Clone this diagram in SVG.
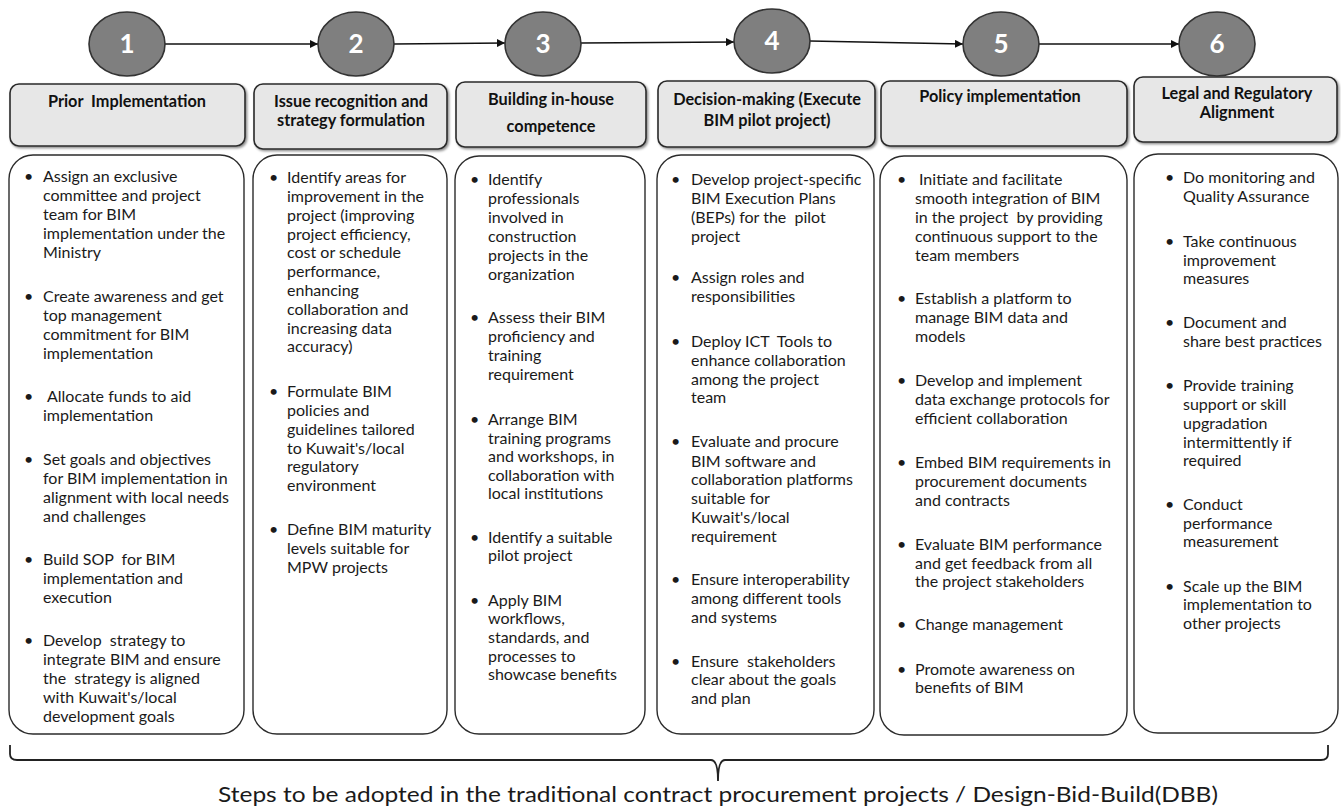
<svg xmlns="http://www.w3.org/2000/svg" width="1341" height="808" viewBox="0 0 1341 808">
  <style>
    .step ellipse { fill: #7f7f7f; stroke: #333333; stroke-width: 1.6; }
    .num { font-family: Lato, "Liberation Sans", sans-serif; font-weight: 700; font-size: 26px; fill: #ffffff; text-anchor: middle; }
    .head { fill: #e7e7e7; stroke: #2b2b2b; stroke-width: 1.6; filter: url(#shade); }
    .htxt { font-family: Lato, "Liberation Sans", sans-serif; font-weight: 700; font-size: 16.3px; fill: #111111; text-anchor: middle; white-space: pre; }
    .body { fill: #ffffff; stroke: #2b2b2b; stroke-width: 1.4; }
    .btxt { font-family: Lato, "Liberation Sans", sans-serif; font-size: 16px; fill: #1a1a1a; white-space: pre; }
    .link { fill: none; stroke: #111111; stroke-width: 1.6; }
    .brace { fill: none; stroke: #222222; stroke-width: 1.8; }
    .caption { font-family: Lato, "Liberation Sans", sans-serif; font-size: 21.5px; fill: #1a1a1a; text-anchor: middle; }
  </style>
  <defs>
    <marker id="arrow" viewBox="0 0 10 10" refX="10" refY="5" markerWidth="8" markerHeight="8" orient="auto" markerUnits="userSpaceOnUse">
      <path d="M0,0 L10,5 L0,10 z" fill="#111111"/>
    </marker>
    <filter id="shade" x="-5%" y="-10%" width="112%" height="130%">
      <feDropShadow dx="1.5" dy="1.5" stdDeviation="0.8" flood-color="#000000" flood-opacity="0.45"/>
    </filter>
  </defs>

  <!-- connectors between the numbered steps -->
  <g id="connectors">
    <line class="link" x1="165" y1="44" x2="318" y2="44" marker-end="url(#arrow)"/>
    <line class="link" x1="394" y1="44" x2="505" y2="43" marker-end="url(#arrow)"/>
    <line class="link" x1="581" y1="43" x2="734" y2="42" marker-end="url(#arrow)"/>
    <line class="link" x1="810" y1="41" x2="963" y2="44" marker-end="url(#arrow)"/>
    <line class="link" x1="1039" y1="44" x2="1179" y2="44" marker-end="url(#arrow)"/>
  </g>

  <!-- step 1 -->
  <g id="step1" class="step">
    <ellipse cx="127" cy="44" rx="38" ry="32"/>
    <text class="num" x="127" y="53">1</text>
    <rect class="head" x="10" y="84" width="235" height="62" rx="9"/>
    <text class="htxt" x="127" y="107">Prior  Implementation</text>
    <rect class="body" x="9" y="155" width="235" height="579" rx="24"/>
    <text class="btxt">
      <tspan x="24" y="182">•</tspan><tspan x="43" y="182">Assign an exclusive</tspan>
      <tspan x="43" y="201">committee and project</tspan>
      <tspan x="43" y="220">team for BIM</tspan>
      <tspan x="43" y="239">implementation under the</tspan>
      <tspan x="43" y="258">Ministry</tspan>
      <tspan x="24" y="302">•</tspan><tspan x="43" y="302">Create awareness and get</tspan>
      <tspan x="43" y="321">top management</tspan>
      <tspan x="43" y="340">commitment for BIM</tspan>
      <tspan x="43" y="359">implementation</tspan>
      <tspan x="24" y="402">•</tspan><tspan x="47" y="402">Allocate funds to aid</tspan>
      <tspan x="43" y="421">implementation</tspan>
      <tspan x="24" y="465">•</tspan><tspan x="43" y="465">Set goals and objectives</tspan>
      <tspan x="43" y="484">for BIM implementation in</tspan>
      <tspan x="43" y="503">alignment with local needs</tspan>
      <tspan x="43" y="522">and challenges</tspan>
      <tspan x="24" y="565">•</tspan><tspan x="43" y="565">Build SOP  for BIM</tspan>
      <tspan x="43" y="584">implementation and</tspan>
      <tspan x="43" y="603">execution</tspan>
      <tspan x="24" y="646">•</tspan><tspan x="43" y="646">Develop  strategy to</tspan>
      <tspan x="43" y="665">integrate BIM and ensure</tspan>
      <tspan x="43" y="684">the  strategy is aligned</tspan>
      <tspan x="43" y="703">with Kuwait's/local</tspan>
      <tspan x="43" y="722">development goals</tspan>
    </text>
  </g>

  <!-- step 2 -->
  <g id="step2" class="step">
    <ellipse cx="356" cy="44" rx="38" ry="32"/>
    <text class="num" x="356" y="53">2</text>
    <rect class="head" x="254" y="84" width="193" height="65" rx="9"/>
    <text class="htxt" x="351" y="107">Issue recognition and</text>
    <text class="htxt" x="351" y="126">strategy formulation</text>
    <rect class="body" x="253" y="155" width="194" height="579" rx="24"/>
    <text class="btxt">
      <tspan x="269" y="183">•</tspan><tspan x="287" y="183">Identify areas for</tspan>
      <tspan x="287" y="202">improvement in the</tspan>
      <tspan x="287" y="221">project (improving</tspan>
      <tspan x="287" y="240">project efficiency,</tspan>
      <tspan x="287" y="258">cost or schedule</tspan>
      <tspan x="287" y="277">performance,</tspan>
      <tspan x="287" y="296">enhancing</tspan>
      <tspan x="287" y="315">collaboration and</tspan>
      <tspan x="287" y="334">increasing data</tspan>
      <tspan x="287" y="352">accuracy)</tspan>
      <tspan x="269" y="397">•</tspan><tspan x="287" y="397">Formulate BIM</tspan>
      <tspan x="287" y="416">policies and</tspan>
      <tspan x="287" y="435">guidelines tailored</tspan>
      <tspan x="287" y="454">to Kuwait's/local</tspan>
      <tspan x="287" y="472">regulatory</tspan>
      <tspan x="287" y="491">environment</tspan>
      <tspan x="269" y="535">•</tspan><tspan x="287" y="535">Define BIM maturity</tspan>
      <tspan x="287" y="554">levels suitable for</tspan>
      <tspan x="287" y="573">MPW projects</tspan>
    </text>
  </g>

  <!-- step 3 -->
  <g id="step3" class="step">
    <ellipse cx="543" cy="44" rx="38" ry="32"/>
    <text class="num" x="543" y="53">3</text>
    <rect class="head" x="456" y="82" width="190" height="65" rx="9"/>
    <text class="htxt" x="551" y="105">Building in-house</text>
    <text class="htxt" x="551" y="132">competence</text>
    <rect class="body" x="455" y="156" width="190" height="578" rx="24"/>
    <text class="btxt">
      <tspan x="470" y="185">•</tspan><tspan x="488" y="185">Identify</tspan>
      <tspan x="488" y="204">professionals</tspan>
      <tspan x="488" y="223">involved in</tspan>
      <tspan x="488" y="242">construction</tspan>
      <tspan x="488" y="261">projects in the</tspan>
      <tspan x="488" y="280">organization</tspan>
      <tspan x="470" y="323">•</tspan><tspan x="488" y="323">Assess their BIM</tspan>
      <tspan x="488" y="342">proficiency and</tspan>
      <tspan x="488" y="361">training</tspan>
      <tspan x="488" y="380">requirement</tspan>
      <tspan x="470" y="425">•</tspan><tspan x="488" y="425">Arrange BIM</tspan>
      <tspan x="488" y="444">training programs</tspan>
      <tspan x="488" y="462">and workshops, in</tspan>
      <tspan x="488" y="481">collaboration with</tspan>
      <tspan x="488" y="499">local institutions</tspan>
      <tspan x="470" y="543">•</tspan><tspan x="488" y="543">Identify a suitable</tspan>
      <tspan x="488" y="561">pilot project</tspan>
      <tspan x="470" y="606">•</tspan><tspan x="488" y="606">Apply BIM</tspan>
      <tspan x="488" y="624">workflows,</tspan>
      <tspan x="488" y="643">standards, and</tspan>
      <tspan x="488" y="662">processes to</tspan>
      <tspan x="488" y="680">showcase benefits</tspan>
    </text>
  </g>

  <!-- step 4 -->
  <g id="step4" class="step">
    <ellipse cx="772" cy="41" rx="38" ry="32"/>
    <text class="num" x="772" y="50">4</text>
    <rect class="head" x="658" y="81" width="217" height="66" rx="9"/>
    <text class="htxt" x="767" y="105">Decision-making (Execute</text>
    <text class="htxt" x="767" y="126">BIM pilot project)</text>
    <rect class="body" x="657" y="155" width="217" height="579" rx="24"/>
    <text class="btxt">
      <tspan x="671" y="185">•</tspan><tspan x="691" y="185">Develop project-specific</tspan>
      <tspan x="691" y="204">BIM Execution Plans</tspan>
      <tspan x="691" y="223">(BEPs) for the  pilot</tspan>
      <tspan x="691" y="242">project</tspan>
      <tspan x="671" y="283">•</tspan><tspan x="691" y="283">Assign roles and</tspan>
      <tspan x="691" y="302">responsibilities</tspan>
      <tspan x="671" y="347">•</tspan><tspan x="691" y="347">Deploy ICT  Tools to</tspan>
      <tspan x="691" y="366">enhance collaboration</tspan>
      <tspan x="691" y="385">among the project</tspan>
      <tspan x="691" y="403">team</tspan>
      <tspan x="671" y="447">•</tspan><tspan x="691" y="447">Evaluate and procure</tspan>
      <tspan x="691" y="467">BIM software and</tspan>
      <tspan x="691" y="485">collaboration platforms</tspan>
      <tspan x="691" y="504">suitable for</tspan>
      <tspan x="691" y="523">Kuwait's/local</tspan>
      <tspan x="691" y="542">requirement</tspan>
      <tspan x="671" y="585">•</tspan><tspan x="691" y="585">Ensure interoperability</tspan>
      <tspan x="691" y="604">among different tools</tspan>
      <tspan x="691" y="623">and systems</tspan>
      <tspan x="671" y="667">•</tspan><tspan x="691" y="667">Ensure  stakeholders</tspan>
      <tspan x="691" y="685">clear about the goals</tspan>
      <tspan x="691" y="704">and plan</tspan>
    </text>
  </g>

  <!-- step 5 -->
  <g id="step5" class="step">
    <ellipse cx="1001" cy="44" rx="38" ry="32"/>
    <text class="num" x="1001" y="53">5</text>
    <rect class="head" x="881" y="81" width="246" height="65" rx="9"/>
    <text class="htxt" x="1000" y="102">Policy implementation</text>
    <rect class="body" x="880" y="156" width="247" height="579" rx="24"/>
    <text class="btxt">
      <tspan x="897" y="185">•</tspan><tspan x="919" y="185">Initiate and facilitate</tspan>
      <tspan x="915" y="204">smooth integration of BIM</tspan>
      <tspan x="915" y="223">in the project  by providing</tspan>
      <tspan x="915" y="242">continuous support to the</tspan>
      <tspan x="915" y="261">team members</tspan>
      <tspan x="897" y="304">•</tspan><tspan x="915" y="304">Establish a platform to</tspan>
      <tspan x="915" y="323">manage BIM data and</tspan>
      <tspan x="915" y="342">models</tspan>
      <tspan x="897" y="386">•</tspan><tspan x="915" y="386">Develop and implement</tspan>
      <tspan x="915" y="405">data exchange protocols for</tspan>
      <tspan x="915" y="424">efficient collaboration</tspan>
      <tspan x="897" y="468">•</tspan><tspan x="915" y="468">Embed BIM requirements in</tspan>
      <tspan x="915" y="487">procurement documents</tspan>
      <tspan x="915" y="506">and contracts</tspan>
      <tspan x="897" y="550">•</tspan><tspan x="915" y="550">Evaluate BIM performance</tspan>
      <tspan x="915" y="569">and get feedback from all</tspan>
      <tspan x="915" y="587">the project stakeholders</tspan>
      <tspan x="897" y="630">•</tspan><tspan x="915" y="630">Change management</tspan>
      <tspan x="897" y="675">•</tspan><tspan x="915" y="675">Promote awareness on</tspan>
      <tspan x="915" y="693">benefits of BIM</tspan>
    </text>
  </g>

  <!-- step 6 -->
  <g id="step6" class="step">
    <ellipse cx="1217" cy="44" rx="38" ry="32"/>
    <text class="num" x="1217" y="53">6</text>
    <rect class="head" x="1134" y="77" width="203" height="65" rx="9"/>
    <text class="htxt" x="1237" y="99">Legal and Regulatory</text>
    <text class="htxt" x="1237" y="118">Alignment</text>
    <rect class="body" x="1134" y="154" width="204" height="579" rx="24"/>
    <text class="btxt">
      <tspan x="1165" y="183">•</tspan><tspan x="1183" y="183">Do monitoring and</tspan>
      <tspan x="1183" y="202">Quality Assurance</tspan>
      <tspan x="1165" y="247">•</tspan><tspan x="1183" y="247">Take continuous</tspan>
      <tspan x="1183" y="266">improvement</tspan>
      <tspan x="1183" y="284">measures</tspan>
      <tspan x="1165" y="328">•</tspan><tspan x="1183" y="328">Document and</tspan>
      <tspan x="1183" y="347">share best practices</tspan>
      <tspan x="1165" y="391">•</tspan><tspan x="1183" y="391">Provide training</tspan>
      <tspan x="1183" y="410">support or skill</tspan>
      <tspan x="1183" y="429">upgradation</tspan>
      <tspan x="1183" y="448">intermittently if</tspan>
      <tspan x="1183" y="466">required</tspan>
      <tspan x="1165" y="510">•</tspan><tspan x="1183" y="510">Conduct</tspan>
      <tspan x="1183" y="529">performance</tspan>
      <tspan x="1183" y="547">measurement</tspan>
      <tspan x="1165" y="592">•</tspan><tspan x="1183" y="592">Scale up the BIM</tspan>
      <tspan x="1183" y="610">implementation to</tspan>
      <tspan x="1183" y="629">other projects</tspan>
    </text>
  </g>

  <!-- brace spanning all steps, with caption -->
  <g id="summary">
    <path class="brace" d="M10,745 L10,754 Q10,760 17,760 L711,760 Q718,760 718,781 Q718,760 725,760 L1321,760 Q1328,760 1328,754 L1328,745"/>
    <text class="caption" x="718" y="802" textLength="1000" lengthAdjust="spacingAndGlyphs">Steps to be adopted in the traditional contract procurement projects / Design-Bid-Build(DBB)</text>
  </g>
</svg>
